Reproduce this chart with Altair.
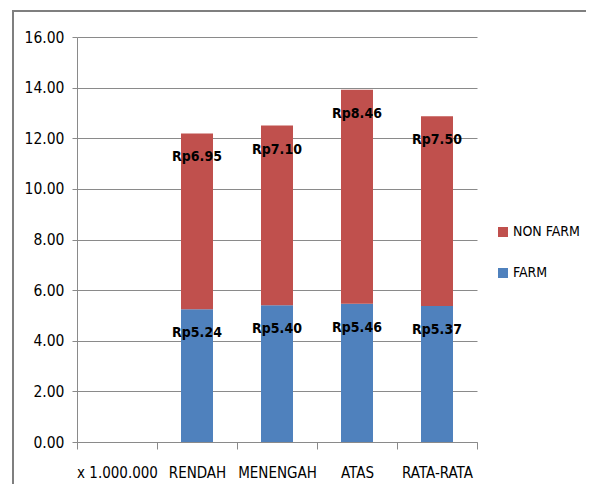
import altair as alt
import pandas as pd

axis_categories = ["x 1.000.000", "RENDAH", "MENENGAH", "ATAS", "RATA-RATA"]
categories = ["RENDAH", "MENENGAH", "ATAS", "RATA-RATA"]
farm = [5.24, 5.40, 5.46, 5.37]
non_farm = [6.95, 7.10, 8.46, 7.50]
legend_order = ["NON FARM", "FARM"]
legend_colors = ["#C0504D", "#4F81BD"]
y_ticks = [0, 2, 4, 6, 8, 10, 12, 14, 16]

rows = []
for i, c in enumerate(categories):
    rows.append({"cat": c, "series": "FARM", "value": farm[i], "ord": 0})
    rows.append({"cat": c, "series": "NON FARM", "value": non_farm[i], "ord": 1})
df = pd.DataFrame(rows)

FONT = "DejaVu Sans Condensed, DejaVu Sans, sans-serif"
GRAY = "#8a8a8a"

base = alt.Chart(df).transform_stack(
    stack="value", groupby=["cat"], as_=["v0", "v1"],
    sort=[alt.SortField("ord", order="ascending")]
)

x_enc = alt.X(
    "cat:N",
    scale=alt.Scale(domain=axis_categories, paddingInner=0, paddingOuter=0),
    axis=alt.Axis(
        title=None, labelAngle=0, tickBand="extent", tickSize=7,
        tickColor=GRAY, domainColor=GRAY, labelFont=FONT, labelFontSize=15,
        labelColor="#000000", labelPadding=16, grid=False,
    ),
)

bars = base.mark_bar(width=32).encode(
    x=x_enc,
    y=alt.Y(
        "v0:Q",
        scale=alt.Scale(domain=[0, 16], nice=False),
        axis=alt.Axis(
            title=None, values=y_ticks, format=".2f", tickSize=5,
            tickColor=GRAY, domainColor=GRAY, gridColor=GRAY, grid=True,
            labelFont=FONT, labelFontSize=15.5, labelColor="#000000",
            labelPadding=8,
        ),
    ),
    y2="v1:Q",
    color=alt.Color(
        "series:N",
        scale=alt.Scale(domain=legend_order, range=legend_colors),
        legend=alt.Legend(
            title=None, orient="none", legendX=419, legendY=188,
            symbolType="square", symbolSize=100, symbolStrokeWidth=0,
            labelFont=FONT, labelFontSize=14, labelColor="#000000",
            rowPadding=27, labelOffset=3,
        ),
    ),
    order=alt.Order("ord:Q"),
)

labels = base.transform_calculate(
    label="'Rp' + format(datum.value, '.2f')"
).mark_text(
    dy=24, font=FONT, fontSize=14, fontWeight="bold", color="#000000",
    baseline="middle", align="center",
).encode(
    x=alt.X("cat:N"),
    y=alt.Y("v1:Q"),
    text="label:N",
)

frame = alt.Chart(pd.DataFrame({"a": [0]})).mark_rect(
    fillOpacity=0, stroke="#7f7f7f", strokeWidth=2
).encode(
    x=alt.value(-64), x2=alt.value(620), y=alt.value(-26), y2=alt.value(520)
)

chart = alt.layer(frame, bars, labels).properties(
    width=400, height=405,
    autosize=alt.AutoSizeParams(type="none"),
    padding={"left": 69, "top": 29, "right": 109, "bottom": 42},
).configure_view(strokeWidth=0)

chart.save("out.html", embed_options={"renderer": "svg", "actions": False})
